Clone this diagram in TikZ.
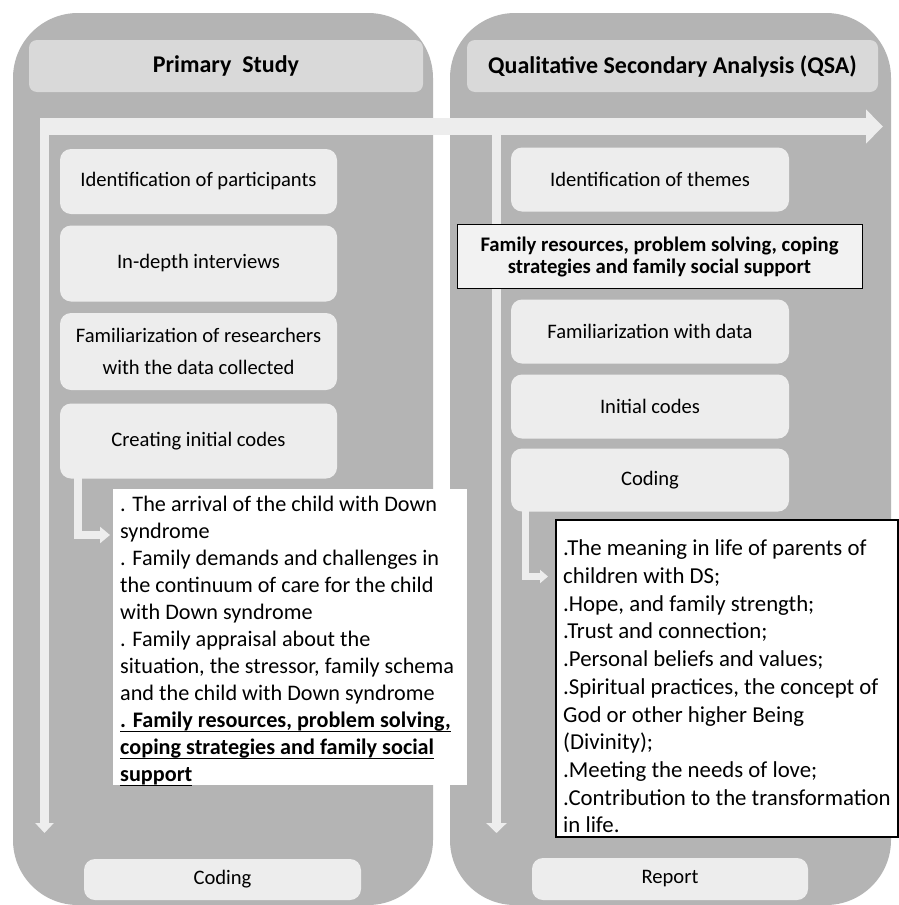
\documentclass[tikz,border=0pt]{standalone}
\usepackage{fontspec}
\setmainfont{Carlito}
\newcommand{\ulline}[1]{\leavevmode\setbox0=\hbox{#1}\rlap{\rule[-4.5pt]{\wd0}{1.4pt}}\box0}
\usetikzlibrary{arrows.meta}
\definecolor{panelgray}{HTML}{B4B4B4}
\definecolor{headgray}{HTML}{D9D9D9}
\definecolor{innergray}{HTML}{EDEDED}
\definecolor{flowgray}{HTML}{EDEDED}
\definecolor{framefill}{HTML}{F2F2F2}
\tikzset{
  panelbox/.style={fill=panelgray, rounded corners=65pt, inner sep=0pt, minimum width=420pt},
  headbox/.style={fill=headgray, rounded corners=8pt, minimum height=52pt, inner sep=0pt, font=\fontsize{24}{29}\selectfont\bfseries},
  stepbox/.style={fill=innergray, rounded corners=11pt, minimum width=277pt, inner sep=0pt, align=center, font=\fontsize{20.6}{32}\selectfont},
  flowline/.style={draw=flowgray, line join=miter},
  listtext/.style={anchor=west, inner sep=0pt, align=left},
}
\begin{document}
\begin{tikzpicture}[x=1pt,y=-1pt]
\useasboundingbox (0,0) rectangle (899,905);
\fill[white] (0,0) rectangle (899,905);

% panels
\node[panelbox, minimum height=892pt] (panelL) at (223,459) {};
\node[panelbox, minimum width=441pt, minimum height=892pt] (panelR) at (670.5,459) {};

% headers
\node[headbox, minimum width=394pt] (headL) at (226,66) {Primary\ \ Study};
\node[headbox, minimum width=411pt] (headR) at (672.5,66) {Qualitative Secondary Analysis (QSA)};

% big flow arrows
\coordinate (hs) at (40,126.5);
\coordinate (he) at (883,126.5);
\coordinate (lvs) at (44.5,118);
\coordinate (lve) at (44.5,833);
\coordinate (rvs) at (496.5,135);
\coordinate (rve) at (496.5,833);
\draw[flowline, line width=9pt, -{Triangle[width=18pt,length=10pt]}] (lvs) -- (lve);
\draw[flowline, line width=9pt, -{Triangle[width=20pt,length=10pt]}] (rvs) -- (rve);
\draw[flowline, line width=17pt, -{Triangle[width=33pt,length=17pt]}] (hs) -- (he);

% left column steps
\node[stepbox, minimum height=65pt] (idp) at (198.5,181.5) {Identification of participants};
\node[stepbox, minimum height=76pt] (idi) at (198.5,263.5) {In-depth interviews};
\node[stepbox, minimum height=77pt] (fam) at (198.5,351.5) {Familiarization of researchers\\with the data collected};
\node[stepbox, minimum height=75pt] (cic) at (198.5,441) {Creating initial codes};

% right column steps
\node[stepbox, minimum width=278pt, minimum height=64pt] (idt) at (650,179.5) {Identification of themes};
\node[draw=black, line width=0.8pt, fill=framefill, minimum width=405pt, minimum height=64pt, inner sep=0pt, align=center,
      font=\fontsize{20.7}{22}\selectfont\bfseries] (frb) at (659.5,256.5)
      {Family resources, problem solving, coping\\strategies and family social support};
\node[stepbox, minimum width=278pt, minimum height=64pt] (fwd) at (650,331.5) {Familiarization with data};
\node[stepbox, minimum width=278pt, minimum height=64pt] (ic) at (650,406.5) {Initial codes};
\node[stepbox, minimum width=278pt, minimum height=63pt] (cod) at (650,480) {Coding};

% small L arrows
\coordinate (la) at (78,477);
\coordinate (lt) at (110,535);
\draw[flowline, line width=8pt, -{Triangle[width=16pt,length=10pt]}] (la) |- (lt);
\coordinate (ra) at (525,511);
\coordinate (rt) at (548,576.5);
\draw[flowline, line width=7pt, -{Triangle[width=13pt,length=8pt]}] (ra) |- (rt);

% left code list
\node[fill=white, anchor=north west, minimum width=354pt, minimum height=296pt, inner sep=0pt] (listL) at (113,489) {};
\node[listtext, font=\fontsize{22.2}{27}\selectfont] (listLtext) at ([xshift=7pt, yshift=-4pt]listL.west)
{. The arrival of the child with Down\\
syndrome\\
. Family demands and challenges in\\
the continuum of care for the child\\
with Down syndrome\\
. Family appraisal about the\\
situation, the stressor, family schema\\
and the child with Down syndrome\\
\ulline{\bfseries . Family resources, problem solving,}\\
\ulline{\bfseries coping strategies and family social}\\
\ulline{\bfseries support}};

% right code list
\node[fill=white, draw=black, line width=2pt, anchor=north west, minimum width=342pt, minimum height=317pt, inner sep=0pt] (listR) at (555,519) {};
\node[listtext, font=\fontsize{22.8}{27.7}\selectfont] (listRtext) at ([xshift=8pt, yshift=-8pt]listR.west)
{.The meaning in life of parents of\\
children with DS;\\
.Hope, and family strength;\\
.Trust and connection;\\
.Personal beliefs and values;\\
.Spiritual practices, the concept of\\
God or other higher Being\\
(Divinity);\\
.Meeting the needs of love;\\
.Contribution to the transformation\\
in life.};

% bottom boxes
\node[stepbox, minimum height=41pt] (codL) at (222.5,879.5) {\raisebox{-2pt}{Coding}};
\node[stepbox, minimum width=276pt, minimum height=42pt] (rep) at (670,879) {\raisebox{-2pt}{Report}};
\end{tikzpicture}
\end{document}
